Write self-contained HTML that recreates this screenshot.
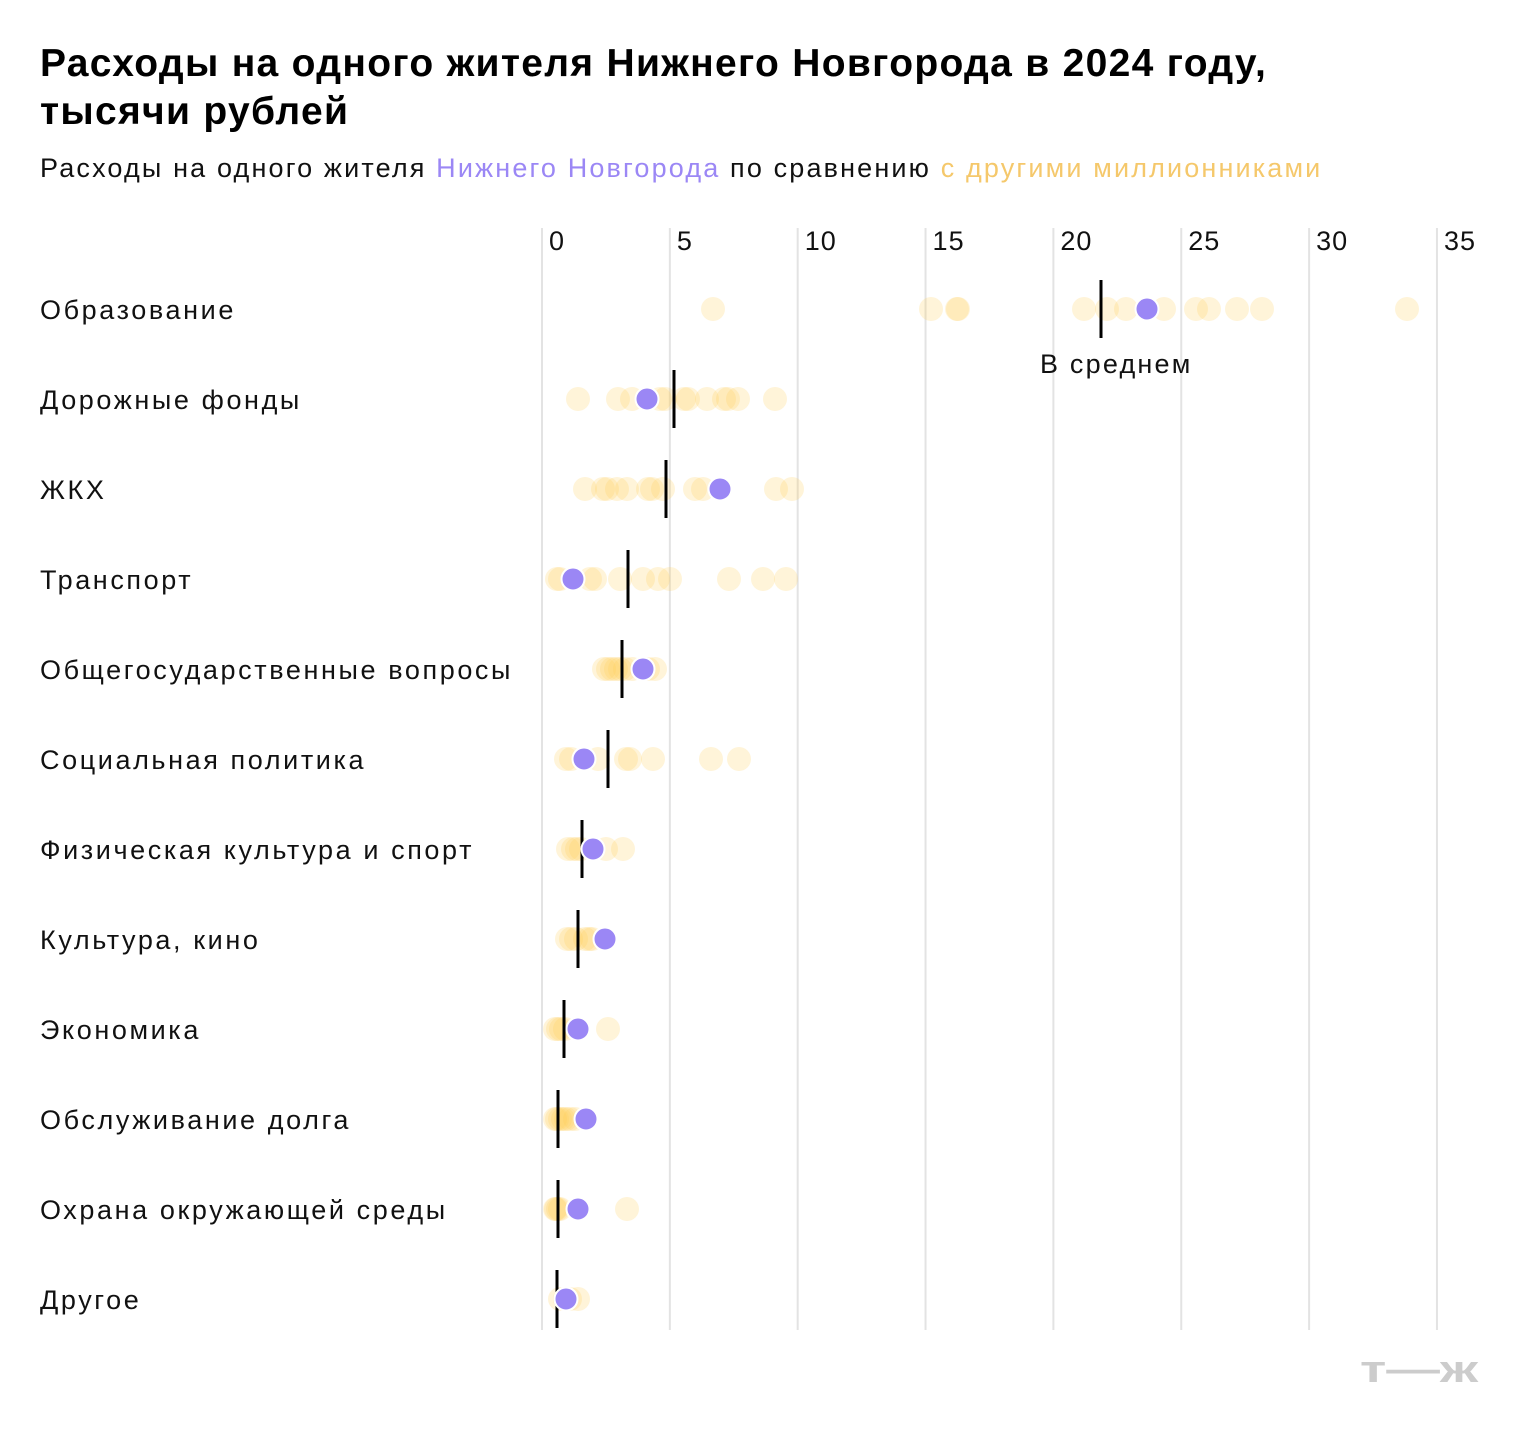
<!DOCTYPE html><html><head><meta charset="utf-8"><style>
body{margin:0;background:#fff;font-family:"Liberation Sans",sans-serif;}
.t{position:absolute;left:40px;top:40px;font-size:39px;letter-spacing:1.3px;font-weight:bold;line-height:48px;color:#000;width:1460px}
.s{position:absolute;left:40px;top:153px;font-size:27px;letter-spacing:2.15px;color:#111;white-space:nowrap}
</style></head><body>
<div class="t">Расходы на одного жителя Нижнего Новгорода в 2024 году,<br>тысячи рублей</div>
<div class="s">Расходы на одного жителя <span style="color:#9b87f5">Нижнего Новгорода</span> по сравнению <span style="color:#f5c86b">с другими миллионниками</span></div>
<svg width="1520" height="1440" style="position:absolute;left:0;top:0" font-family="Liberation Sans, sans-serif">
<g id="g" stroke="#e3e3e3" stroke-width="2"></g>
<g id="d"></g>
<text x="1040" y="373" font-size="27" letter-spacing="2.2" fill="#111">В среднем</text>
<text x="1360" y="1382" font-size="38" font-weight="bold" fill="#ccc" textLength="118" lengthAdjust="spacingAndGlyphs">т—ж</text>
</svg>
<script>
const NS="http://www.w3.org/2000/svg";
function el(p,t,a,txt){const e=document.createElementNS(NS,t);for(const k in a)e.setAttribute(k,a[k]);if(txt)e.textContent=txt;p.appendChild(e);return e;}
const g=document.getElementById('g'),d=document.getElementById('d'),svg=document.querySelector('svg');
for(let i=0;i<8;i++){const x=542+i*127.85;el(g,'line',{x1:x,x2:x,y1:228,y2:1330});el(svg,'text',{x:x+7,y:250,'font-size':27,'letter-spacing':1,fill:'#111'},String(i*5));}
const rows=[
["Образование",[713,931,957,958,1084,1107,1126,1164,1196,1209,1237,1262,1407],1147,1101],
["Дорожные фонды",[578,618,632,660,665,684,688,707,724,728,738,775],647,674],
["ЖКХ",[585,603,607,617,627,648,652,663,695,703,776,792],720,666],
["Транспорт",[557,560,590,595,620,643,658,670,729,763,786],573,628],
["Общегосударственные вопросы",[604,608,612,616,620,625,632,648,655],643,622],
["Социальная политика",[566,571,598,626,630,653,711,739],584,608],
["Физическая культура и спорт",[568,573,577,581,606,623],593,582],
["Культура, кино",[567,571,576,585,589,592],605,578],
["Экономика",[555,558,561,565,608],578,564],
["Обслуживание долга",[555,557,560,563,566,570,575],586,558],
["Охрана окружающей среды",[555,556,558,560,627],578,558],
["Другое",[560,565,570,578],566,557]];
rows.forEach((r,i)=>{const y=309+i*90;
el(svg,'text',{x:40,y:y+10,'font-size':27,'letter-spacing':2.6,fill:'#111'},r[0]);
r[1].forEach(x=>el(d,'circle',{cx:x,cy:y,r:12,fill:'rgba(255,205,80,0.22)'}));
el(d,'line',{x1:r[3],x2:r[3],y1:y-29,y2:y+29,stroke:'#000','stroke-width':3});
el(d,'circle',{cx:r[2],cy:y,r:11.5,fill:'#9b87f5',stroke:'#fff','stroke-width':2});
});
</script>
</body></html>
